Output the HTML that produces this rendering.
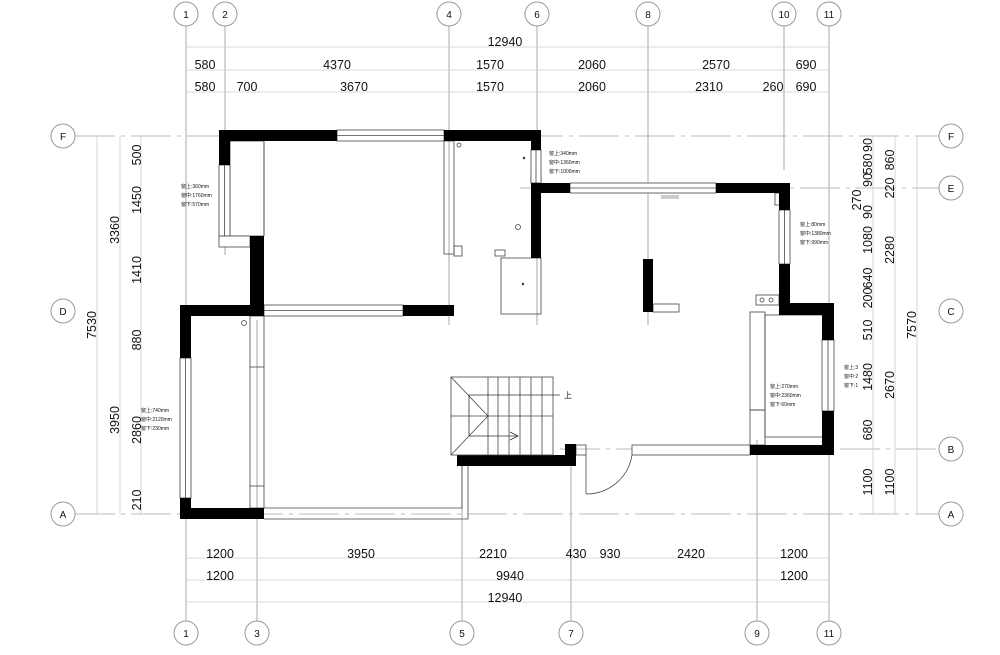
<!DOCTYPE html>
<html><head><meta charset="utf-8"><style>
html,body{margin:0;padding:0;background:#fff;}
svg{display:block}
text{font-family:"Liberation Sans","Noto Sans CJK SC",sans-serif;fill:#111}
.d{font-size:12.5px}
.s{font-size:5px;fill:#555}
.g{stroke:#aaa;stroke-width:1;fill:none}
.gd{stroke:#bbb;stroke-width:1;fill:none;stroke-dasharray:40 6 4 6}
.dl{stroke:#ccc;stroke-width:0.8;fill:none}
.w{fill:#000}
.o{fill:#fff;stroke:#444;stroke-width:0.8}
.l{stroke:#444;stroke-width:0.8;fill:none}
.c{fill:#fff;stroke:#999;stroke-width:1}
.t{stroke:#333;stroke-width:0.8}
</style></head><body>
<svg width="1000" height="655" viewBox="0 0 1000 655" xmlns="http://www.w3.org/2000/svg">
<!-- grid lines vertical -->
<g class="g">
<line x1="186" y1="26" x2="186" y2="621"/>
<line x1="225" y1="26" x2="225" y2="255"/>
<line x1="257" y1="320" x2="257" y2="621"/>
<line x1="449" y1="26" x2="449" y2="325"/>
<line x1="462" y1="466" x2="462" y2="621"/>
<line x1="537" y1="26" x2="537" y2="325"/>
<line x1="571" y1="466" x2="571" y2="621"/>
<line x1="648" y1="26" x2="648" y2="325"/>
<line x1="757" y1="440" x2="757" y2="621"/>
<line x1="784" y1="26" x2="784" y2="170"/>
<line x1="829" y1="26" x2="829" y2="621"/>
</g>
<!-- horizontal grid -->
<g class="gd">
<line x1="75" y1="136" x2="939" y2="136"/>
<line x1="520" y1="188" x2="939" y2="188"/>
<line x1="75" y1="514" x2="939" y2="514"/>
<line x1="560" y1="449" x2="939" y2="449"/>
</g>
<!-- axis circles -->
<g>
<circle class="c" cx="186" cy="14" r="12"/><text x="186" y="18" font-size="10" text-anchor="middle">1</text>
<circle class="c" cx="225" cy="14" r="12"/><text x="225" y="18" font-size="10" text-anchor="middle">2</text>
<circle class="c" cx="449" cy="14" r="12"/><text x="449" y="18" font-size="10" text-anchor="middle">4</text>
<circle class="c" cx="537" cy="14" r="12"/><text x="537" y="18" font-size="10" text-anchor="middle">6</text>
<circle class="c" cx="648" cy="14" r="12"/><text x="648" y="18" font-size="10" text-anchor="middle">8</text>
<circle class="c" cx="784" cy="14" r="12"/><text x="784" y="18" font-size="10" text-anchor="middle">10</text>
<circle class="c" cx="829" cy="14" r="12"/><text x="829" y="18" font-size="10" text-anchor="middle">11</text>
<circle class="c" cx="186" cy="633" r="12"/><text x="186" y="637" font-size="10" text-anchor="middle">1</text>
<circle class="c" cx="257" cy="633" r="12"/><text x="257" y="637" font-size="10" text-anchor="middle">3</text>
<circle class="c" cx="462" cy="633" r="12"/><text x="462" y="637" font-size="10" text-anchor="middle">5</text>
<circle class="c" cx="571" cy="633" r="12"/><text x="571" y="637" font-size="10" text-anchor="middle">7</text>
<circle class="c" cx="757" cy="633" r="12"/><text x="757" y="637" font-size="10" text-anchor="middle">9</text>
<circle class="c" cx="829" cy="633" r="12"/><text x="829" y="637" font-size="10" text-anchor="middle">11</text>
<circle class="c" cx="63" cy="136" r="12"/><text x="63" y="140" font-size="10" text-anchor="middle">F</text>
<circle class="c" cx="63" cy="311" r="12"/><text x="63" y="315" font-size="10" text-anchor="middle">D</text>
<circle class="c" cx="63" cy="514" r="12"/><text x="63" y="518" font-size="10" text-anchor="middle">A</text>
<circle class="c" cx="951" cy="136" r="12"/><text x="951" y="140" font-size="10" text-anchor="middle">F</text>
<circle class="c" cx="951" cy="188" r="12"/><text x="951" y="192" font-size="10" text-anchor="middle">E</text>
<circle class="c" cx="951" cy="311" r="12"/><text x="951" y="315" font-size="10" text-anchor="middle">C</text>
<circle class="c" cx="951" cy="449" r="12"/><text x="951" y="453" font-size="10" text-anchor="middle">B</text>
<circle class="c" cx="951" cy="514" r="12"/><text x="951" y="518" font-size="10" text-anchor="middle">A</text>
</g>
<!-- top dims -->
<g class="dl">
<line x1="186" y1="47" x2="829" y2="47"/>
<line x1="186" y1="70" x2="829" y2="70"/>
<line x1="186" y1="92" x2="829" y2="92"/>
<line x1="186" y1="558" x2="829" y2="558"/>
<line x1="186" y1="580" x2="829" y2="580"/>
<line x1="186" y1="602" x2="829" y2="602"/>
<line x1="97" y1="136" x2="97" y2="514"/>
<line x1="120" y1="136" x2="120" y2="514"/>
<line x1="141" y1="136" x2="141" y2="514"/>
<line x1="873" y1="136" x2="873" y2="514"/>
<line x1="895" y1="136" x2="895" y2="514"/>
<line x1="917" y1="136" x2="917" y2="514"/>
</g>
<g class="d" text-anchor="middle">
<text x="505" y="46">12940</text>
<text x="205" y="69">580</text><text x="337" y="69">4370</text><text x="490" y="69">1570</text><text x="592" y="69">2060</text><text x="716" y="69">2570</text><text x="806" y="69">690</text>
<text x="205" y="91">580</text><text x="247" y="91">700</text><text x="354" y="91">3670</text><text x="490" y="91">1570</text><text x="592" y="91">2060</text><text x="709" y="91">2310</text><text x="773" y="91">260</text><text x="806" y="91">690</text>
<text x="220" y="558">1200</text><text x="361" y="558">3950</text><text x="493" y="558">2210</text><text x="576" y="558">430</text><text x="610" y="558">930</text><text x="691" y="558">2420</text><text x="794" y="558">1200</text>
<text x="220" y="580">1200</text><text x="510" y="580">9940</text><text x="794" y="580">1200</text>
<text x="505" y="602">12940</text>
</g>
<!-- left vertical dims -->
<g class="d" text-anchor="middle">
<text transform="translate(96,325) rotate(-90)">7530</text>
<text transform="translate(119,230) rotate(-90)">3360</text>
<text transform="translate(119,420) rotate(-90)">3950</text>
<text transform="translate(141,155) rotate(-90)">500</text>
<text transform="translate(141,200) rotate(-90)">1450</text>
<text transform="translate(141,270) rotate(-90)">1410</text>
<text transform="translate(141,340) rotate(-90)">880</text>
<text transform="translate(141,430) rotate(-90)">2860</text>
<text transform="translate(141,500) rotate(-90)">210</text>
<!-- right -->
<text transform="translate(872,145) rotate(-90)">90</text>
<text transform="translate(872,164) rotate(-90)">580</text>
<text transform="translate(872,180) rotate(-90)">90</text>
<text transform="translate(861,200) rotate(-90)">270</text>
<text transform="translate(872,212) rotate(-90)">90</text>
<text transform="translate(872,240) rotate(-90)">1080</text>
<text transform="translate(872,278) rotate(-90)">640</text>
<text transform="translate(872,298) rotate(-90)">200</text>
<text transform="translate(872,330) rotate(-90)">510</text>
<text transform="translate(872,377) rotate(-90)">1480</text>
<text transform="translate(872,430) rotate(-90)">680</text>
<text transform="translate(872,482) rotate(-90)">1100</text>
<text transform="translate(894,160) rotate(-90)">860</text>
<text transform="translate(894,188) rotate(-90)">220</text>
<text transform="translate(894,250) rotate(-90)">2280</text>
<text transform="translate(894,385) rotate(-90)">2670</text>
<text transform="translate(894,482) rotate(-90)">1100</text>
<text transform="translate(916,325) rotate(-90)">7570</text>
</g>
<!-- plan thin outlines -->
<g class="l">
<rect x="230" y="141" width="34" height="95"/>
<line x1="264" y1="141" x2="264" y2="236"/>
<rect x="444" y="141" width="10" height="113"/>
<rect x="454" y="246" width="8" height="10"/>
<rect x="495" y="250" width="10" height="6"/>
<rect x="501" y="258" width="40" height="56"/>
<rect x="531" y="175" width="10" height="8"/>
<rect x="250" y="316" width="14" height="51"/>
<line x1="250" y1="367" x2="250" y2="486"/><line x1="264" y1="367" x2="264" y2="486"/>
<rect x="250" y="486" width="14" height="22"/>
<polyline points="264,508 462,508 462,455"/>
<polyline points="264,519 468,519 468,466"/>
<rect x="653" y="304" width="26" height="8"/>
<rect x="750" y="312" width="15" height="98"/>
<rect x="750" y="410" width="15" height="35"/>
<rect x="756" y="295" width="23" height="10"/>
<rect x="765" y="315" width="58" height="122"/>
<rect x="775" y="193" width="11" height="12"/>
<rect x="576" y="445" width="10" height="10"/>
<line x1="586" y1="455" x2="586" y2="494"/>
<path d="M586,494 A46,46 0 0 0 632,455"/>
</g>
<!-- windows -->
<g class="o">
<rect x="337" y="130" width="107" height="11"/>
<rect x="219" y="165" width="11" height="71"/>
<rect x="219" y="236" width="31" height="11"/>
<rect x="531" y="150" width="10" height="33"/>
<rect x="570" y="183" width="146" height="10"/>
<rect x="779" y="210" width="11" height="54"/>
<rect x="264" y="305" width="139" height="11"/>
<rect x="180" y="358" width="11" height="140"/>
<rect x="822" y="340" width="12" height="71"/>
<rect x="632" y="445" width="118" height="10"/>
</g>
<g class="l">
<line x1="337" y1="135.5" x2="444" y2="135.5"/>
<line x1="224.5" y1="165" x2="224.5" y2="236"/>
<line x1="536" y1="150" x2="536" y2="183"/>
<line x1="570" y1="188" x2="716" y2="188"/>
<line x1="784.5" y1="210" x2="784.5" y2="264"/>
<line x1="264" y1="310.5" x2="403" y2="310.5"/>
<line x1="185.5" y1="358" x2="185.5" y2="498"/>
<line x1="828" y1="340" x2="828" y2="411"/>
</g>
<!-- walls -->
<g class="w">
<rect x="219" y="130" width="118" height="11"/>
<rect x="219" y="130" width="11" height="35"/>
<rect x="444" y="130" width="97" height="11"/>
<rect x="531" y="130" width="10" height="20"/>
<rect x="250" y="236" width="14" height="80"/>
<rect x="180" y="305" width="84" height="11"/>
<rect x="180" y="305" width="11" height="53"/>
<rect x="403" y="305" width="51" height="11"/>
<rect x="180" y="498" width="11" height="21"/>
<rect x="180" y="508" width="84" height="11"/>
<rect x="531" y="183" width="39" height="10"/>
<rect x="531" y="183" width="10" height="75"/>
<rect x="716" y="183" width="74" height="10"/>
<rect x="779" y="183" width="11" height="27"/>
<rect x="779" y="264" width="11" height="41"/>
<rect x="779" y="303" width="55" height="12"/>
<rect x="822" y="303" width="12" height="37"/>
<rect x="822" y="411" width="12" height="44"/>
<rect x="750" y="445" width="84" height="10"/>
<rect x="643" y="259" width="10" height="53"/>
<rect x="457" y="455" width="119" height="11"/>
<rect x="565" y="444" width="11" height="22"/>
</g>
<!-- stairs -->
<g class="l" stroke="#888">
<rect x="451" y="377" width="102" height="78"/>
<line x1="451" y1="377" x2="488" y2="416"/><line x1="451" y1="455" x2="488" y2="416"/>
<line x1="451" y1="416" x2="553" y2="416"/>
<line x1="488" y1="377" x2="488" y2="455"/><line x1="498" y1="377" x2="498" y2="455"/><line x1="509" y1="377" x2="509" y2="455"/><line x1="520" y1="377" x2="520" y2="455"/><line x1="531" y1="377" x2="531" y2="455"/><line x1="542" y1="377" x2="542" y2="455"/>
<polyline points="560,395 469,395 469,436 518,436" stroke="#333"/>
<polyline points="510,432 518,436 510,440" stroke="#333"/>
</g>
<text x="564" y="398" font-size="8">上</text>
<!-- small symbols -->
<g class="l" stroke="#777">
<circle cx="459" cy="145" r="2"/><circle cx="244" cy="323" r="2.5"/><circle cx="518" cy="227" r="2.5"/>
<circle cx="762" cy="300" r="2"/><circle cx="771" cy="300" r="2"/>
</g>
<circle cx="524" cy="158" r="1.2" fill="#333"/><circle cx="523" cy="284" r="1.2" fill="#333"/>
<rect x="661" y="195" width="18" height="4" fill="#ccc"/>
<!-- notes -->
<g class="s">
<text x="181" y="188">窗上:360mm</text><text x="181" y="197">窗中:1760mm</text><text x="181" y="206">窗下:570mm</text>
<text x="549" y="155">窗上:340mm</text><text x="549" y="164">窗中:1360mm</text><text x="549" y="173">窗下:1000mm</text>
<text x="800" y="226">窗上:80mm</text><text x="800" y="235">窗中:1380mm</text><text x="800" y="244">窗下:990mm</text>
<text x="141" y="412">窗上:740mm</text><text x="141" y="421">窗中:2120mm</text><text x="141" y="430">窗下:230mm</text>
<text x="770" y="388">窗上:270mm</text><text x="770" y="397">窗中:2360mm</text><text x="770" y="406">窗下:60mm</text>
<text x="844" y="369">窗上:3</text><text x="844" y="378">窗中:2</text><text x="844" y="387">窗下:1</text>
</g>
</svg>
</body></html>
